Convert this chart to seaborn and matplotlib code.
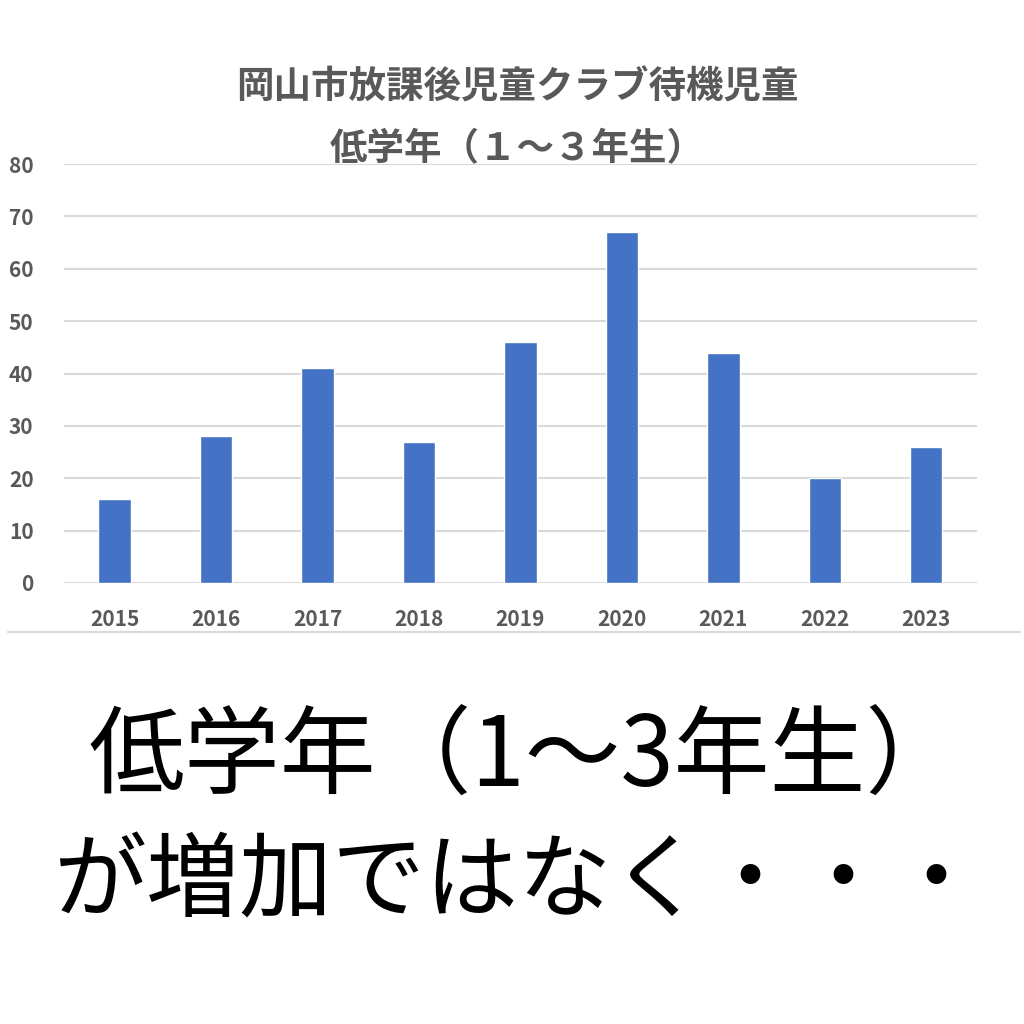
import numpy as np
import pandas as pd
import seaborn as sns
import matplotlib.pyplot as plt
from matplotlib.lines import Line2D

# data
years = ['2015', '2016', '2017', '2018', '2019', '2020', '2021', '2022', '2023']
waiting = [16, 28, 41, 27, 46, 67, 44, 20, 26]

title_text = '岡山市放課後児童クラブ待機児童\n低学年（１～３年生）'
caption1 = '低学年（1～3年生）'
caption2 = 'が増加ではなく・・・'

df = pd.DataFrame({'year': years, 'count': waiting})

sns.set_theme(style='white')
plt.rcParams['font.family'] = ['Noto Sans CJK JP', 'DejaVu Sans']

fig = plt.figure(figsize=(10.24, 10.24), dpi=100)
ax = fig.add_axes([0.0625, 0.4307, 0.8915, 0.4091])

sns.barplot(data=df, x='year', y='count', color='#4472C4', saturation=1,
            width=0.32, ax=ax)

ax.set_ylim(0, 80)
ax.set_yticks(range(0, 81, 10))
ax.yaxis.grid(True, color='#d9d9d9', linewidth=1.5)
ax.set_axisbelow(True)
for s in ax.spines.values():
    s.set_visible(False)
ax.set_xlabel('')
ax.set_ylabel('')
ax.tick_params(axis='both', length=0, colors='#595959', labelsize=15)
ax.tick_params(axis='x', pad=19)
ax.tick_params(axis='y', pad=22)
for lab in ax.get_xticklabels() + ax.get_yticklabels():
    lab.set_fontweight('bold')

fig.text(0.505, 0.885, title_text, ha='center', va='center', fontsize=27,
         fontweight='bold', color='#595959', linespacing=1.75)

# thin separator under the chart
fig.add_artist(Line2D([0.008, 0.996], [1 - 632 / 1024, 1 - 632 / 1024],
                      transform=fig.transFigure, color='#d9d9d9', linewidth=1.5))

fig.text(0.086, 1 - 758 / 1024, caption1, ha='left', va='center',
         fontsize=69, color='black')
fig.text(0.052, 1 - 884 / 1024, caption2, ha='left', va='center',
         fontsize=67, color='black')

fig.savefig('out.png', dpi=100, facecolor='white')
